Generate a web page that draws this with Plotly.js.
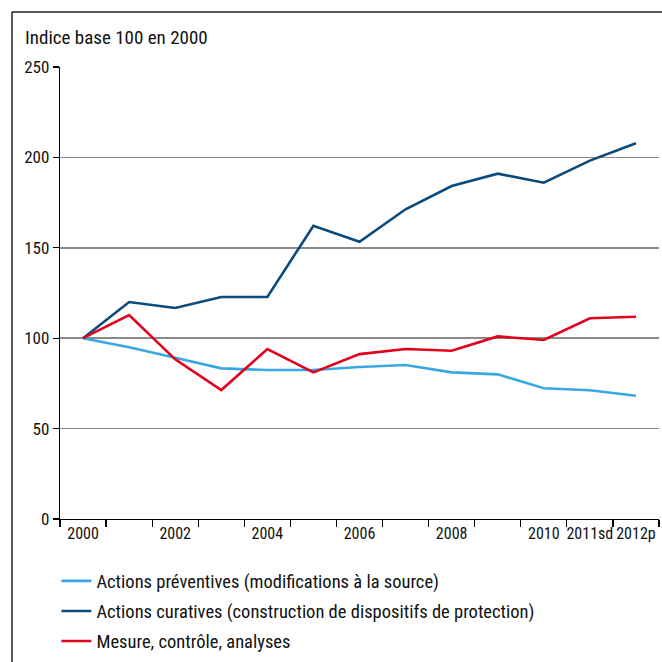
<!DOCTYPE html>
<html>
<head>
<meta charset="utf-8">
<script src="https://cdn.plot.ly/plotly-3.0.1.min.js"></script>
<style>html,body{margin:0;padding:0;background:#fff;}#chart{width:662px;height:662px;}</style>
</head>
<body>
<div id="chart"></div>
<script>
const years = ['2000','2001','2002','2003','2004','2005','2006','2007','2008','2009','2010','2011sd','2012p'];
const yearLabels = ['2000','','2002','','2004','','2006','','2008','','2010','2011sd','2012p'];
const preventives = [100, 95, 89.2, 83.3, 82.4, 82.4, 84.1, 85.2, 81.1, 80, 72.3, 71.2, 68.2];
const curatives = [100, 120, 116.7, 122.8, 122.8, 162.2, 153.3, 171.3, 184.2, 191, 186, 198.2, 207.8];
const mesure = [100, 112.8, 88.3, 71.3, 94, 81.1, 91.2, 94, 93.1, 101, 99, 111, 111.9];
const seriesNames = ['Actions préventives (modifications à la source)', 'Actions curatives (construction de dispositifs de protection)', 'Mesure, contrôle, analyses'];
const yTicks = [0, 50, 100, 150, 200, 250];

const FONT = '"Roboto Condensed", "Liberation Sans Narrow", Roboto, sans-serif';
const colors = ['#3aa8e0', '#0b4a7d', '#e2001a'];
const vals = [preventives, curatives, mesure];

const traces = vals.map((v, i) => ({
  type: 'scatter', mode: 'lines', x: years, y: v, name: seriesNames[i],
  legendgroup: 'g' + i,
  line: {color: colors[i], width: 2.6}
}));

const layout = {
  width: 662, height: 662,
  margin: {l: 60, r: 3, t: 67, b: 143, autoexpand: false},
  paper_bgcolor: '#fff', plot_bgcolor: '#fff',
  font: {family: FONT, size: 16, color: '#111'},
  title: {text: 'Indice base 100 en 2000', x: 25/662, xanchor: 'left', xref: 'container', y: 1 - 37/662, yanchor: 'middle', yref: 'container', font: {family: FONT, size: 19, color: '#111'}},
  xaxis: {
    type: 'category', range: [-0.5, 12.5], tickson: 'boundaries',
    tickmode: 'array', tickvals: years, ticktext: yearLabels, tickangle: 0,
    ticks: 'outside', ticklen: 7, tickcolor: '#000', tickwidth: 1.2,
    showline: true, linecolor: '#000', linewidth: 1.2, showgrid: false,
    tickfont: {family: FONT, size: 16, color: '#111'}, fixedrange: true, automargin: false
  },
  yaxis: {
    range: [0, 250], tickmode: 'array', tickvals: yTicks,
    ticks: 'outside', ticklen: 6, tickcolor: '#000', tickwidth: 1.2,
    showline: true, linecolor: '#000', linewidth: 1.2,
    showgrid: true, gridcolor: '#8a8a8a', gridwidth: 1.5, zeroline: false,
    tickfont: {family: FONT, size: 17, color: '#111'}, fixedrange: true, automargin: false
  },
  showlegend: true,
  legend: {
    orientation: 'v', x: -0.006, xanchor: 'left', y: -0.096, yanchor: 'top',
    font: {family: FONT, size: 18.5, color: '#111'},
    tracegroupgap: 3, bgcolor: 'rgba(0,0,0,0)'
  },
  shapes: [
    {type: 'line', xref: 'paper', yref: 'paper', x0: -0.0801, x1: 1.01, y0: 1.1217, y1: 1.1217, line: {color: '#222', width: 1.5}},
    {type: 'line', xref: 'paper', yref: 'paper', x0: -0.0801, x1: -0.0801, y0: 1.1217, y1: -0.33, line: {color: '#222', width: 1.5}}
  ]
};

Plotly.newPlot('chart', traces, layout, {displayModeBar: false, staticPlot: true});
</script>
</body>
</html>
